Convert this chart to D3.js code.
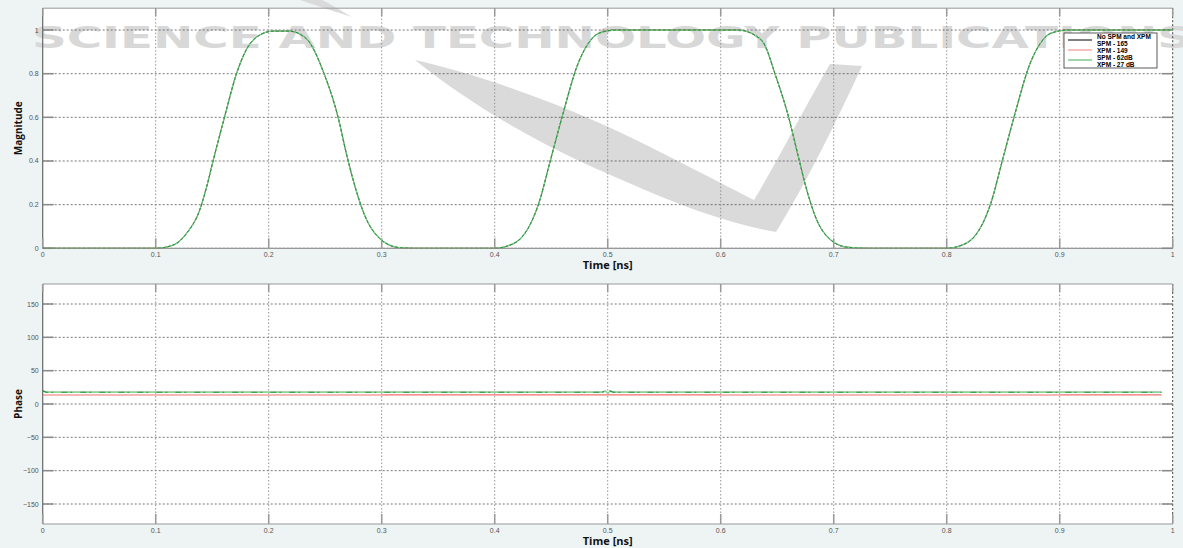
<!DOCTYPE html>
<html>
<head>
<meta charset="utf-8">
<script src="https://cdn.jsdelivr.net/npm/d3@7"></script>
<style>
body { margin:0; background:#eef3f4; }
svg { display:block; font-family:"Liberation Sans", Arial, sans-serif; }
</style>
</head>
<body>
<div id="chart-area"></div>
<script>
// Tick values
var timeTicks = [0, 0.1, 0.2, 0.3, 0.4, 0.5, 0.6, 0.7, 0.8, 0.9, 1];
var magTicks = [0, 0.2, 0.4, 0.6, 0.8, 1];
var phaseTicks = [-150, -100, -50, 0, 50, 100, 150];

// Magnitude trace
var magTime = [0, 0.1, 0.1156, 0.1274, 0.139, 0.145, 0.151, 0.161, 0.1715, 0.18, 0.192, 0.204, 0.218,
    0.233, 0.249, 0.262, 0.268, 0.276, 0.285, 0.298, 0.3155, 0.33, 0.4, 0.4097, 0.4244, 0.439,
    0.4494, 0.4597, 0.4738, 0.483, 0.492, 0.507, 0.6156, 0.63, 0.639, 0.648, 0.66, 0.668, 0.676,
    0.685, 0.697, 0.712, 0.73, 0.8, 0.8097, 0.8244, 0.839, 0.8494, 0.8597, 0.8738, 0.883, 0.892,
    0.907, 1];
var magValue = [0, 0, 0.015, 0.069, 0.176, 0.28, 0.405, 0.603, 0.8, 0.908, 0.977, 0.995, 0.995,
    0.962, 0.8, 0.588, 0.45, 0.29, 0.15, 0.046, 0.003, 0, 0, 0.008, 0.053, 0.206,
    0.405, 0.603, 0.847, 0.94, 0.985, 1, 1, 0.977, 0.931, 0.8, 0.603, 0.435, 0.27,
    0.13, 0.04, 0.005, 0, 0, 0.008, 0.053, 0.206, 0.405, 0.603, 0.847, 0.94, 0.985,
    1, 1];

// Phase traces
var phaseTime = [0, 0.003, 0.3, 0.301, 0.495, 0.498, 0.5, 0.502, 0.505, 0.6, 0.601, 0.9, 0.901, 0.99];
var phaseRed = [13.5, 13.5, 13.5, 13.8, 13.8, 13.8, 13.8, 13.8, 13.8, 13.8, 13.5, 13.5, 13.8, 13.8];
var phaseGreen = [20, 17.6, 17.6, 17.6, 17.6, 19.5, 15.5, 19.5, 17.6, 17.6, 17.6, 17.6, 17.6, 17.6];

// Legend
var legendLabels = ["No SPM and XPM", "SPM - 165", "XPM - 149", "SPM - 62dB", "XPM - 27 dB"];

var W = 1183, H = 548;
var left = 42.7, right = 1172.7;

var svg = d3.select("#chart-area")
    .append("svg")
    .attr("width", W)
    .attr("height", H);

// Scales
var x = d3.scaleLinear().domain([0, 1]).range([left, right]);
var yMag = d3.scaleLinear().domain([0, 1.1]).range([248.3, 8.2]);
var yPh = d3.scaleLinear().domain([-180, 180]).range([524, 284]);

var panels = [
    { y: yMag, ticks: magTicks, fmt: d3.format("~g"), label: "Magnitude", id: "mag" },
    { y: yPh, ticks: phaseTicks, fmt: d3.format("d"), label: "Phase", id: "ph" }
];

// white plot areas
panels.forEach(function(p) {
    var top = p.y.range()[1], bot = p.y.range()[0];
    svg.append("rect")
        .attr("x", left).attr("y", top)
        .attr("width", right - left).attr("height", bot - top)
        .attr("fill", "#fff");
    svg.append("clipPath").attr("id", "clip-" + p.id)
        .append("rect")
        .attr("x", left).attr("y", top)
        .attr("width", right - left).attr("height", bot - top);
});

// Watermark
var wm = svg.append("g").attr("class", "watermark");
wm.append("path")
    .attr("d", "M300,0 C318,6 336,12 352,17 C340,10 330,4 322,0 Z")
    .attr("fill", "#dadada");
wm.append("path")
    .attr("d", "M415,60 C470,72 560,102 640,142 C690,167 725,185 754,200 C778,160 802,112 830,64 " +
        "L862,66 C838,118 808,180 776,232 C730,224 680,206 622,180 C545,148 475,108 415,60 Z")
    .attr("fill", "#dadada");
wm.append("text")
    .attr("x", 32).attr("y", 48)
    .attr("textLength", 1160)
    .attr("lengthAdjust", "spacingAndGlyphs")
    .attr("font-family", "DejaVu Sans")
    .attr("font-weight", "bold")
    .attr("font-size", "31px")
    .attr("fill", "#d8d8d8")
    .text("SCIENCE AND TECHNOLOGY PUBLICATIONS");

panels.forEach(function(p) {
    var g = svg.append("g").attr("class", p.id);
    var top = p.y.range()[1], bot = p.y.range()[0];

    // grid
    g.selectAll(".hgrid").data(p.ticks).enter().append("line")
        .attr("x1", left).attr("x2", right)
        .attr("y1", function(d) { return p.y(d); })
        .attr("y2", function(d) { return p.y(d); })
        .attr("stroke", "#555").attr("stroke-width", 0.8)
        .attr("stroke-dasharray", "2,2");
    g.selectAll(".vgrid").data(timeTicks.slice(1, -1)).enter().append("line")
        .attr("x1", function(d) { return x(d); })
        .attr("x2", function(d) { return x(d); })
        .attr("y1", top).attr("y2", bot)
        .attr("stroke", "#888").attr("stroke-width", 0.9)
        .attr("stroke-dasharray", "1.5,2");

    // frame
    g.append("line").attr("x1", left).attr("x2", left).attr("y1", top).attr("y2", bot)
        .attr("stroke", "#666").attr("stroke-width", 1.2);
    g.append("line").attr("x1", left).attr("x2", right).attr("y1", bot).attr("y2", bot)
        .attr("stroke", "#999").attr("stroke-width", 1.2);
    g.append("line").attr("x1", left).attr("x2", right).attr("y1", top).attr("y2", top)
        .attr("stroke", "#999").attr("stroke-width", 1);
    g.append("line").attr("x1", right).attr("x2", right).attr("y1", top).attr("y2", bot)
        .attr("stroke", "#444").attr("stroke-width", 1)
        .attr("stroke-dasharray", "2,2");

    // inner ticks
    g.selectAll(".ytl").data(p.ticks).enter().append("line")
        .attr("x1", left).attr("x2", left + 11)
        .attr("y1", function(d) { return p.y(d); })
        .attr("y2", function(d) { return p.y(d); })
        .attr("stroke", "#888").attr("stroke-width", 1.5);
    g.selectAll(".ytr").data(p.ticks).enter().append("line")
        .attr("x1", right - 11).attr("x2", right)
        .attr("y1", function(d) { return p.y(d); })
        .attr("y2", function(d) { return p.y(d); })
        .attr("stroke", "#888").attr("stroke-width", 1.5);
    g.selectAll(".xtb").data(timeTicks).enter().append("line")
        .attr("x1", function(d) { return x(d); })
        .attr("x2", function(d) { return x(d); })
        .attr("y1", bot - 10).attr("y2", bot)
        .attr("stroke", "#999").attr("stroke-width", 1.5);
    g.selectAll(".xtt").data(timeTicks).enter().append("line")
        .attr("x1", function(d) { return x(d); })
        .attr("x2", function(d) { return x(d); })
        .attr("y1", top).attr("y2", top + 8)
        .attr("stroke", "#999").attr("stroke-width", 1.5);

    // tick labels
    g.selectAll(".ylab").data(p.ticks).enter().append("text")
        .attr("x", left - 4)
        .attr("y", function(d) { return p.y(d) + 2.5; })
        .attr("text-anchor", "end")
        .attr("font-size", "7px")
        .attr("fill", "#555")
        .text(p.fmt);
    g.selectAll(".xlab").data(timeTicks).enter().append("text")
        .attr("x", function(d) { return x(d); })
        .attr("y", bot + 9)
        .attr("text-anchor", "middle")
        .attr("font-size", "7px")
        .attr("fill", "#555")
        .text(d3.format("~g"));

    // axis labels
    g.append("text")
        .attr("transform", "translate(22," + ((top + bot) / 2) + ") rotate(-90)")
        .attr("text-anchor", "middle")
        .attr("font-family", "Open Sans")
        .attr("font-weight", "bold")
        .attr("font-size", "10px")
        .attr("fill", "#111")
        .text(p.label);
    g.append("text")
        .attr("x", x(0.5)).attr("y", bot + 20.5)
        .attr("text-anchor", "middle")
        .attr("font-family", "Open Sans")
        .attr("font-weight", "bold")
        .attr("font-size", "11px")
        .attr("fill", "#111")
        .text("Time [ns]");
});

// Magnitude traces
var magLine = d3.line()
    .curve(d3.curveMonotoneX)
    .x(function(d, i) { return x(magTime[i]); })
    .y(function(d) { return yMag(d); });

var gm = svg.append("g").attr("clip-path", "url(#clip-mag)");
gm.append("path").attr("d", magLine(magValue))
    .attr("fill", "none").attr("stroke", "#000").attr("stroke-width", 0.8);
gm.append("path").attr("d", magLine(magValue))
    .attr("fill", "none").attr("stroke", "#f08080").attr("stroke-width", 0.9);
gm.append("path").attr("d", magLine(magValue))
    .attr("fill", "none").attr("stroke", "#7fcf8e").attr("stroke-width", 1.3);
gm.append("path").attr("d", magLine(magValue))
    .attr("fill", "none").attr("stroke", "#23923f").attr("stroke-width", 1)
    .attr("stroke-dasharray", "3,2");

// Phase traces
var phLine = d3.line()
    .x(function(d, i) { return x(phaseTime[i]); })
    .y(function(d) { return yPh(d); });

var gp = svg.append("g").attr("clip-path", "url(#clip-ph)");
gp.append("path").attr("d", phLine(phaseGreen))
    .attr("fill", "none").attr("stroke", "#000").attr("stroke-width", 0.8);
gp.append("path").attr("d", phLine(phaseRed))
    .attr("fill", "none").attr("stroke", "#f07070").attr("stroke-width", 1.2);
gp.append("path").attr("d", phLine(phaseGreen))
    .attr("fill", "none").attr("stroke", "#8fd69c").attr("stroke-width", 1.4);
gp.append("path").attr("d", phLine(phaseGreen))
    .attr("fill", "none").attr("stroke", "#1f9a3a").attr("stroke-width", 1.2)
    .attr("stroke-dasharray", "6,3,2,8");

// Legend
var lg = svg.append("g").attr("transform", "translate(1064,33)");
lg.append("rect")
    .attr("width", 93).attr("height", 35)
    .attr("fill", "#fff").attr("stroke", "#333").attr("stroke-width", 0.8);
var swatch = [["#000", 7], ["#f08080", 17], ["#3fae58", 27]];
swatch.forEach(function(s) {
    lg.append("line").attr("x1", 4).attr("x2", 28)
        .attr("y1", s[1]).attr("y2", s[1])
        .attr("stroke", s[0]).attr("stroke-width", 1);
});
lg.selectAll(".ltext").data(legendLabels).enter().append("text")
    .attr("x", 33)
    .attr("y", function(d, i) { return 6 + i * 7; })
    .attr("font-size", "6.5px")
    .attr("font-weight", "bold")
    .attr("fill", "#000")
    .text(function(d) { return d; });
</script>
</body>
</html>
